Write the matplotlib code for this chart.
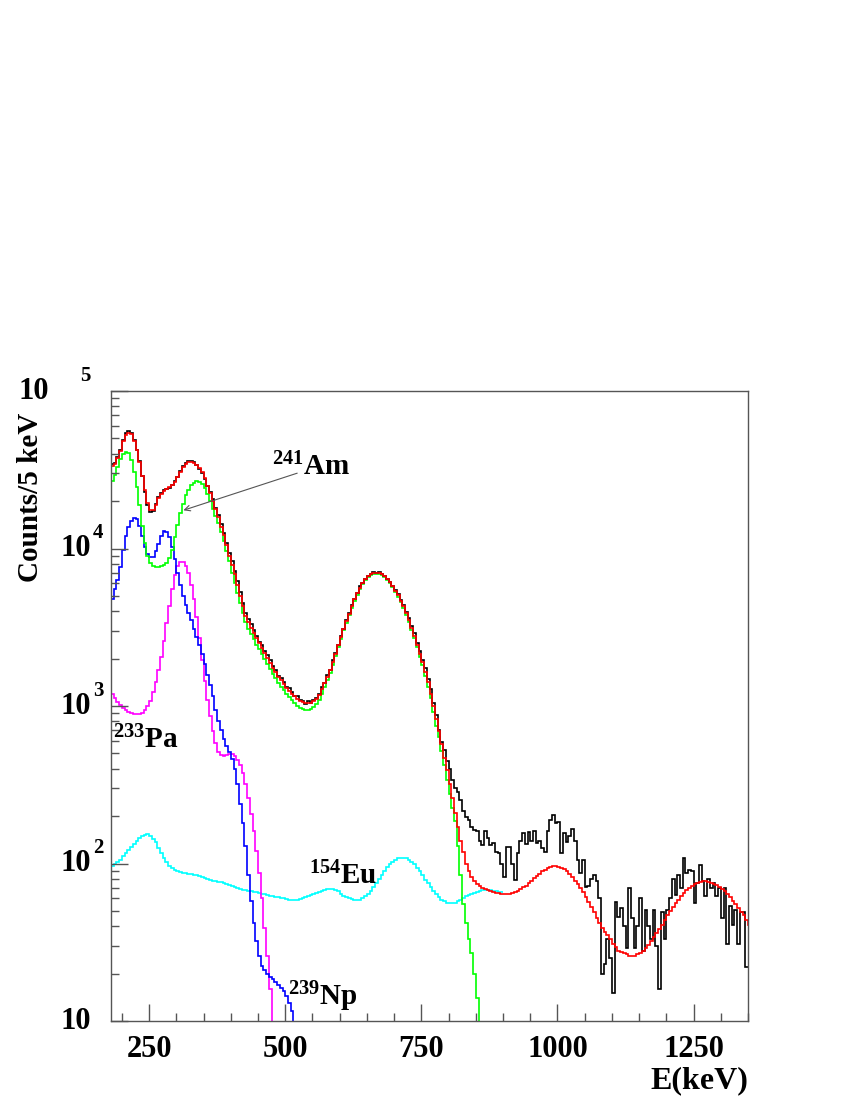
import numpy as np
import matplotlib
matplotlib.use("Agg")
import matplotlib.pyplot as plt
from matplotlib.ticker import FixedLocator, MultipleLocator, NullFormatter, LogLocator

plt.rcParams['font.family'] = ['Liberation Serif', 'DejaVu Serif']
plt.rcParams['font.weight'] = 'bold'
plt.rcParams['mathtext.fontset'] = 'custom'
plt.rcParams['mathtext.rm'] = 'Liberation Serif:bold'
plt.rcParams['mathtext.bf'] = 'Liberation Serif:bold'
plt.rcParams['mathtext.it'] = 'Liberation Serif:bold'

# histogram binning (keV)
bin_lo = 180
bin_w = 5

# measured spectrum, counts per 5 keV bin starting at 180 keV
data = [
    34500, 35000, 38000, 42500, 49000, 54000, 56000, 54000, 49000, 42500,   # 180
    36000, 29000, 23000, 19000, 17000, 17200, 19200, 21300, 22500, 23500,   # 230
    24000, 24200, 25500, 26800, 28500, 31000, 33500, 35000, 35800, 35900,   # 280
    35200, 34000, 32000, 30000, 27500, 25000, 22800, 20500, 18200, 16300,   # 330
    14300, 12600, 10900, 9400, 8300, 7200, 6200, 5300, 4500, 3900,          # 380
    3550, 3300, 3050, 2800, 2550, 2450, 2250, 2100, 1950, 1800,             # 430
    1700, 1560, 1500, 1420, 1330, 1300, 1230, 1160, 1150, 1090,             # 480
    1080, 1030, 1070, 1040, 1090, 1120, 1200, 1330, 1400, 1580,             # 530
    1700, 1950, 2180, 2450, 2800, 3100, 3500, 3900, 4350, 4800,             # 580
    5200, 5750, 6050, 6450, 6700, 6850, 7050, 7000, 7100, 6850,             # 630
    6650, 6450, 6150, 5800, 5450, 5150, 4700, 4400, 3950, 3600,             # 680
    3200, 2900, 2500, 2250, 1950, 1750, 1480, 1280, 1050, 880,              # 730
    700, 590, 525, 450, 400, 340, 300, 286, 253, 214,                       # 780
    198, 189, 171, 163, 160, 140, 131, 160, 145, 131,                       # 830
    135, 118, 116, 100, 82, 128, 128, 100, 79, 116,                         # 880
    140, 156, 133, 158, 140, 160, 135, 140, 125, 118,                       # 930
    160, 189, 203, 180, 184, 116, 156, 137, 150, 165,                       # 980
    140, 105, 87, 105, 71, 72, 80, 85, 77, 60,                              # 1030
    20, 23, 33, 25, 15, 57, 46, 52, 40, 29,                                 # 1080
    70, 45, 29, 40, 60, 28, 51, 40, 33, 51,                                 # 1130
    30, 16, 49, 33, 51, 60, 80, 63, 85, 70,                                 # 1180
    108, 87, 91, 90, 56, 75, 98, 77, 62, 80,                                # 1230
    70, 75, 62, 70, 45, 70, 31, 54, 41, 51,                                 # 1280
    31, 49, 49, 22,                                                         # 1330
]

# total fit
fit_total = [
    33500, 34500, 37500, 41500, 48000, 52500, 54500, 53000, 48500, 42000,   # 180
    35500, 29000, 23500, 19500, 17500, 17500, 19000, 20800, 22300, 23300,   # 230
    24000, 24500, 25200, 26500, 28500, 30800, 33000, 34500, 35300, 35500,   # 280
    35000, 34000, 32500, 30500, 28000, 25000, 22500, 20000, 17800, 15800,   # 330
    13800, 12200, 10500, 9000, 7900, 6900, 5900, 5000, 4300, 3750,          # 380
    3400, 3150, 2900, 2700, 2520, 2350, 2180, 2020, 1880, 1750,             # 430
    1640, 1540, 1460, 1380, 1310, 1250, 1200, 1150, 1110, 1080,             # 480
    1060, 1045, 1040, 1045, 1070, 1110, 1180, 1280, 1400, 1530,             # 530
    1700, 1900, 2150, 2450, 2750, 3100, 3450, 3850, 4300, 4750,             # 580
    5200, 5650, 6050, 6400, 6650, 6850, 6950, 7000, 6950, 6850,             # 630
    6650, 6400, 6100, 5750, 5400, 5050, 4650, 4300, 3900, 3500,             # 680
    3150, 2800, 2450, 2150, 1900, 1650, 1420, 1200, 1000, 830,              # 730
    690, 570, 470, 390, 320, 260, 210, 170, 140, 118,                       # 780
    100, 90, 82, 77, 74, 72, 70, 69, 68, 67,                                # 830
    66, 65, 65, 64, 64, 64, 64, 65, 66, 67,                                 # 880
    69, 71, 72, 75, 78, 81, 83, 86, 89, 91,                                 # 930
    93, 95, 96, 96, 95, 94, 92, 89, 86, 82,                                 # 980
    78, 74, 70, 66, 61, 57, 53, 49, 45, 42,                                 # 1030
    39, 37, 35, 33, 31, 29.5, 28, 27.5, 27, 26.5,                           # 1080
    26, 26, 26, 26.5, 27, 28, 29, 30.5, 32, 34,                             # 1130
    36, 38.5, 41, 44, 47, 50, 53, 56, 59, 62,                               # 1180
    65, 68, 70, 72, 74, 75.5, 76.5, 77, 77, 76.5,                           # 1230
    75.5, 74, 73, 71, 69, 67, 64, 61, 58, 55,                               # 1280
    52, 49, 47, 44, 41,                                                     # 1330
]

# 241Am component
am241 = [
    27000, 29500, 33000, 37000, 40000, 41300, 40500, 36500, 30500, 24500,   # 180
    19000, 14000, 10800, 9000, 8100, 7700, 7600, 7600, 7700, 7850,          # 230
    8100, 8700, 9800, 11800, 14200, 16700, 19300, 21800, 23700, 25200,      # 280
    26200, 26700, 26500, 25600, 24200, 22300, 20000, 17800, 16000, 14500,   # 330
    12800, 11200, 9700, 8300, 7000, 6000, 5200, 4500, 3900, 3400,           # 380
    3100, 2850, 2650, 2450, 2300, 2150, 2000, 1850, 1720, 1600,             # 430
    1500, 1410, 1330, 1260, 1200, 1140, 1090, 1040, 1000, 975,              # 480
    955, 945, 945, 955, 985, 1030, 1100, 1200, 1320, 1460,                  # 530
    1630, 1830, 2080, 2380, 2680, 3020, 3370, 3770, 4200, 4650,             # 580
    5100, 5550, 5950, 6300, 6550, 6750, 6870, 6920, 6880, 6780,             # 630
    6580, 6320, 6020, 5680, 5320, 4960, 4570, 4210, 3810, 3410,             # 680
    3060, 2710, 2360, 2060, 1810, 1560, 1330, 1120, 920, 750,               # 730
    640, 520, 420, 340, 275, 225, 185, 130, 85, 55,                         # 780
    42, 33, 27, 20, 14, 5,                                                  # 830
]

# 239Np component
np239 = [
    4800, 5500, 6300, 7600, 9800, 12000, 13800, 15000, 15600, 15300,        # 180
    14000, 12000, 10300, 9300, 8800, 8900, 9600, 10700, 12000, 13000,       # 230
    12800, 11800, 10300, 8600, 7000, 5900, 5000, 4400, 3900, 3500,          # 280
    3100, 2750, 2450, 2150, 1850, 1580, 1370, 1150, 950, 800,               # 330
    700, 620, 560, 510, 460, 400, 320, 240, 180, 130,                       # 380
    85, 58, 42, 32, 26, 22.5, 21, 20, 19, 18.5,                             # 430
    17.8, 17, 16.3, 15.5, 14.5, 13, 11.5, 5,                                # 480
]

# 233Pa component
pa233 = [
    1200, 1120, 1060, 1010, 970, 940, 915, 900, 890, 885,                   # 180
    890, 905, 940, 1000, 1080, 1220, 1420, 1700, 2050, 2600,                # 230
    3350, 4300, 5500, 6800, 7800, 8200, 8200, 7800, 7000, 5900,             # 280
    4800, 3700, 2700, 1950, 1450, 1100, 860, 690, 580, 510,                 # 330
    490, 485, 490, 495, 495, 480, 455, 420, 375, 320,                       # 380
    260, 205, 160, 120, 87, 60, 39, 26, 16, 6,                              # 430
]

# 154Eu component
eu154 = [
    96, 99, 102, 106, 111, 116, 122, 128, 134, 140,                         # 180
    145, 149, 152, 153, 150, 144, 136, 126, 117, 109,                       # 230
    102, 97, 93, 91, 89, 88, 87, 86.5, 86, 85.5,                            # 280
    85, 84, 83, 82, 81, 80, 79, 78, 77, 76.5,                               # 330
    76, 75, 74, 73, 72, 71, 70, 69, 68, 67.5,                               # 380
    67, 66.5, 66, 65.5, 65, 64.5, 64, 63, 62.5, 62,                         # 430
    61.5, 61, 60.5, 60, 59.5, 59, 59, 59, 59, 59.5,                         # 480
    60, 61, 62, 63, 64, 65, 66, 67, 68, 68.5,                               # 530
    69, 69, 68, 66.5, 64.5, 62.5, 61, 60, 59.5, 59,                         # 580
    59, 59, 60, 62, 64, 67, 71, 75, 80, 85,                                 # 630
    90, 95, 99, 103, 106, 108, 109, 109, 108, 106,                          # 680
    103, 99, 94, 89, 84, 79, 75, 71, 67, 64,                                # 730
    61, 59, 57.5, 56.5, 56, 56, 56.5, 57.5, 59, 60.5,                       # 780
    62, 63, 64, 65, 66, 67, 67.5, 68, 68, 67.5,                             # 830
    67, 66.5, 66, 65.5,                                                     # 880
]

y_decades = [10, 100, 1000, 10000, 100000]
y_exp = ['', '2', '3', '4', '5']
x_major = [250, 500, 750, 1000, 1250]


def edges(vals):
    return bin_lo + bin_w * np.arange(len(vals) + 1)


fig = plt.figure(figsize=(8.5, 11), dpi=100)
ax = fig.add_axes([0.1306, 0.0718, 0.7494, 0.5727])

# ROOT-like histograms: no closing lines down to a baseline
ax.stairs(eu154, edges(eu154), color='#00ffff', lw=1.2, baseline=None)
ax.stairs(pa233, edges(pa233), color='#ff00ff', lw=1.2, baseline=None)
ax.stairs(np239, edges(np239), color='#0000ff', lw=1.2, baseline=None)
ax.stairs(am241, edges(am241), color='#00ff00', lw=1.2, baseline=None)
ax.stairs(data, edges(data), color='black', lw=1.2, baseline=None)
ax.stairs(fit_total, edges(fit_total), color='#ff0000', lw=1.2, baseline=None)

ax.set_yscale('log')
ax.set_xlim(180, 1350)
ax.set_ylim(10, 1e5)

for s in ax.spines.values():
    s.set_color('#555555')
    s.set_linewidth(1.0)

ax.xaxis.set_major_locator(FixedLocator(x_major))
ax.xaxis.set_minor_locator(MultipleLocator(50))
ax.yaxis.set_major_locator(FixedLocator(y_decades))
ax.yaxis.set_minor_locator(LogLocator(base=10, subs=np.arange(2, 10)))
ax.yaxis.set_major_formatter(NullFormatter())
ax.yaxis.set_minor_formatter(NullFormatter())
ax.tick_params(which='both', direction='in', color='#555555', width=1.0)
ax.tick_params(which='major', length=12)
ax.tick_params(which='minor', length=6)
ax.tick_params(axis='x', labelsize=22, pad=10)
for lab in ax.get_xticklabels():
    lab.set_fontweight('bold')

# y tick labels, ROOT style "10" + exponent (top one sits further left)
ytr = ax.get_yaxis_transform()
for v, e in zip(y_decades, y_exp):
    x10 = -0.122 if v == 1e5 else -0.055
    ax.text(x10, v, '10', transform=ytr, ha='center', va='center',
            fontsize=22, fontweight='bold')
    if e:
        xe = -0.04 if v == 1e5 else -0.02
        ax.text(xe, v * 1.25, e, transform=ytr, ha='center', va='center',
                fontsize=15, fontweight='bold')

fig.text(0.036, 0.548, 'Counts/5 keV', rotation=90, ha='center', va='center',
         fontsize=21, fontweight='bold')
fig.text(0.88, 0.0173, 'E(keV)', ha='right', va='center',
         fontsize=23, fontweight='bold')

# component labels
ax.text(476, 29300, r'$^{241}$Am', fontsize=21, fontweight='bold', va='baseline')
ax.text(184, 541, r'$^{233}$Pa', fontsize=21, fontweight='bold', va='baseline')
ax.text(543, 74, r'$^{154}$Eu', fontsize=21, fontweight='bold', va='baseline')
ax.text(506, 12.6, r'$^{239}$Np', fontsize=21, fontweight='bold', va='baseline')
ax.annotate('', xy=(313, 17500), xytext=(522, 30100),
            arrowprops=dict(arrowstyle='->', color='#555555', lw=0.8,
                            shrinkA=0, shrinkB=0, mutation_scale=10))

fig.savefig('out.png', dpi=100)
